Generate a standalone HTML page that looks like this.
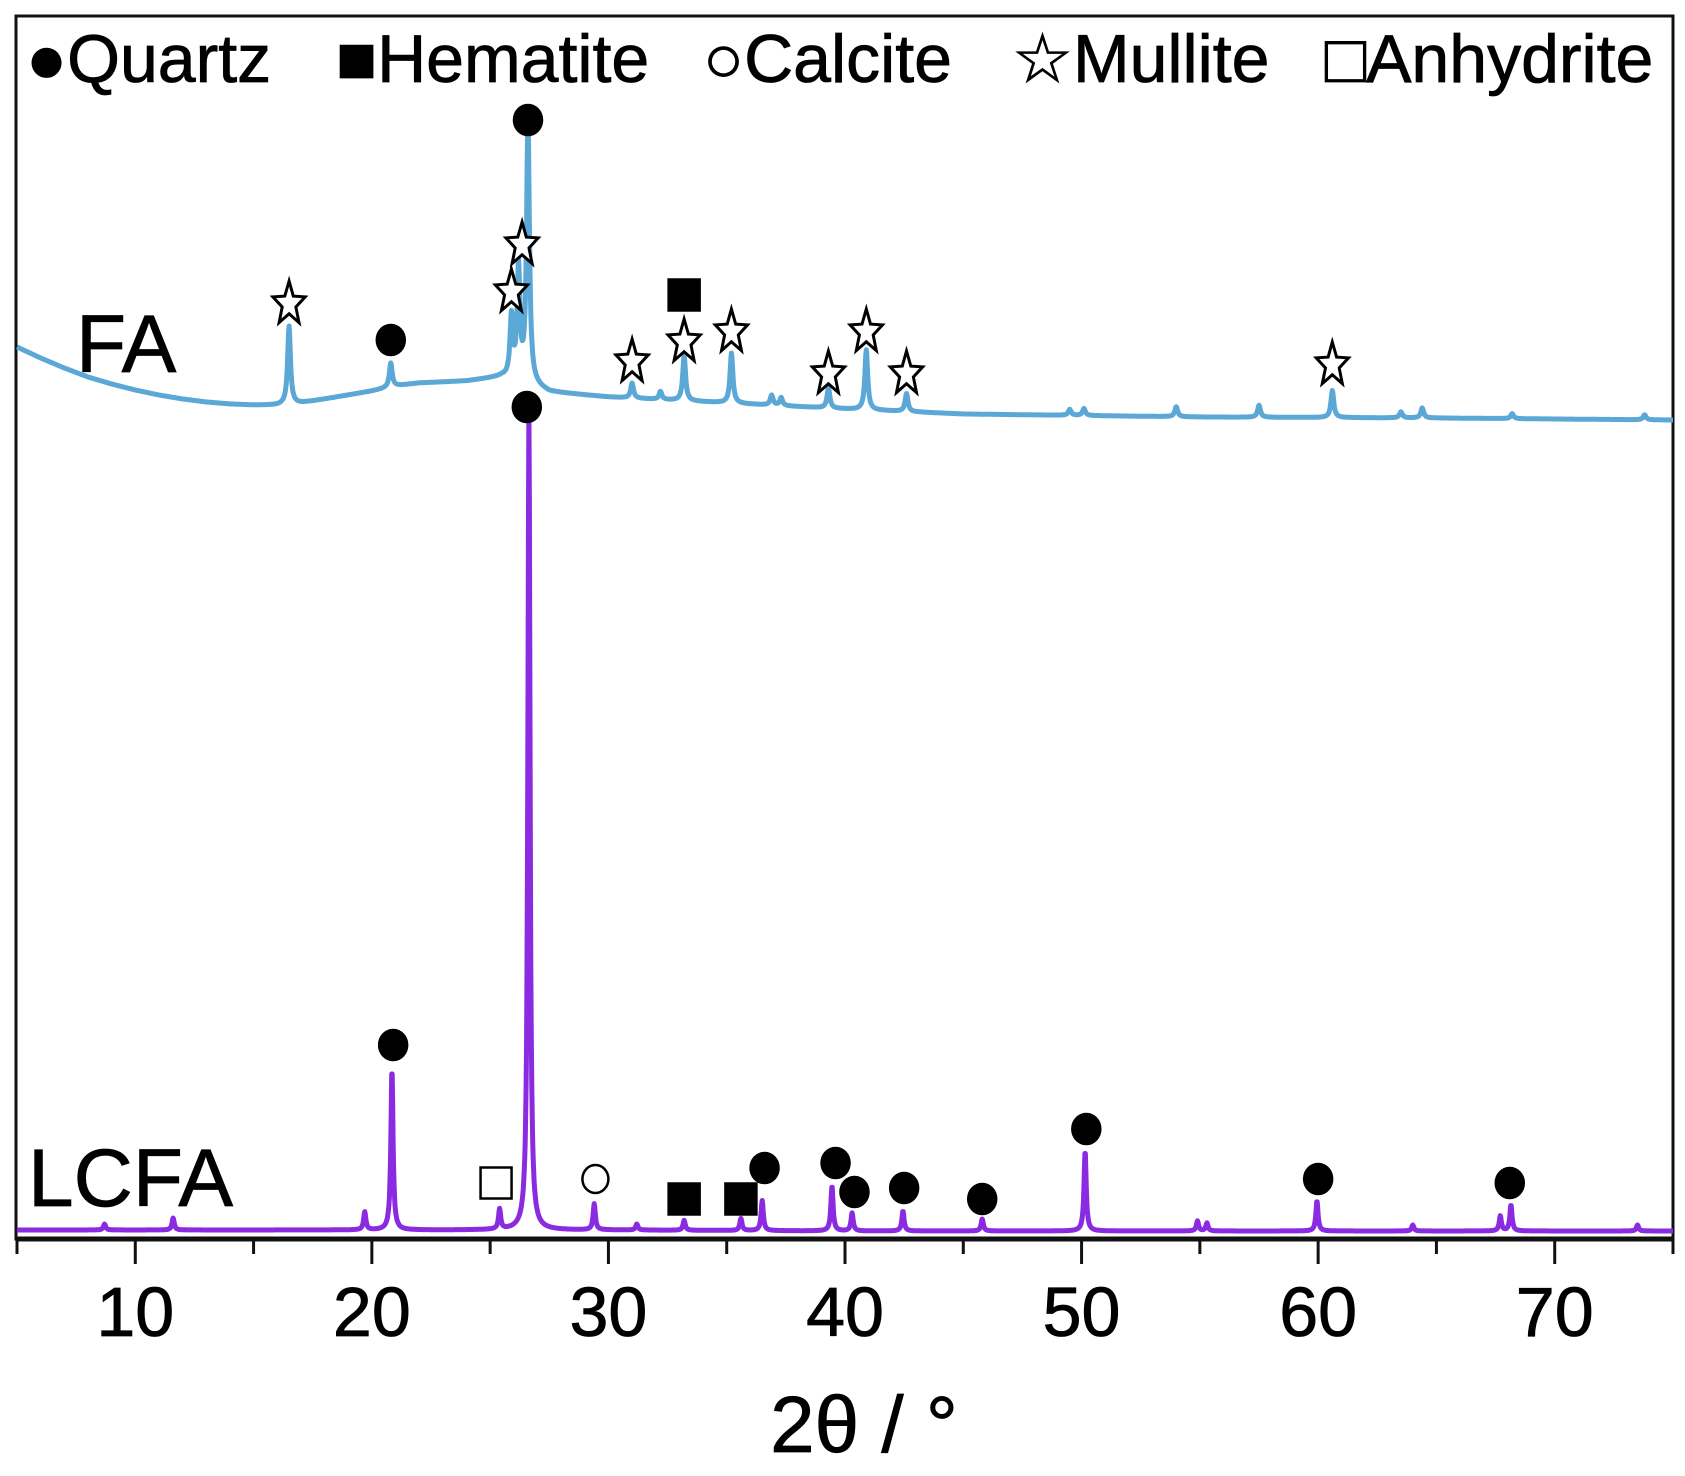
<!DOCTYPE html>
<html><head><meta charset="utf-8"><style>
html,body{margin:0;padding:0;background:#fff}
svg{display:block;font-family:"Liberation Sans","DejaVu Sans",sans-serif}
</style></head><body>
<svg id="chart" width="1685" height="1476" viewBox="0 0 1685 1476" xmlns="http://www.w3.org/2000/svg">
<rect x="16" y="16" width="1657" height="1223" fill="#fff" stroke="#111" stroke-width="3"/>
<g id="series"></g>
<g id="markers"></g>
<g id="axis"></g>
<g font-size="68" fill="#000" stroke="#000" stroke-width="0.8">
<text x="26" y="82">●Quartz</text>
<text x="336" y="82">■Hematite</text>
<text x="703" y="82">○Calcite</text>
<text x="1012" y="82">☆Mullite</text>
<text x="1325" y="82">□Anhydrite</text>
</g>
<text x="76" y="372" font-size="82" stroke="#000" stroke-width="0.8">FA</text>
<text x="28" y="1206" font-size="82" stroke="#000" stroke-width="0.8">LCFA</text>
<text x="864" y="1452" font-size="80" text-anchor="middle" stroke="#000" stroke-width="0.8">2θ / °</text>
</svg>
<script>
const xTicks=[10,20,30,40,50,60,70];
const xMinor=[5,15,25,35,45,55,65,75];
const faBaseX=[5,6,7,8,9,10,11,12,13,14,15,16,17,18,19,20,21,22,24,25.5,26.5,27.5,30,35,40,45,55,65,75];
const faBaseV=[83,72,62,53,46,40,35,31,28,26,25,25,27,31,35,39,44,47,49,53,48,38,33,27,21,16,13,12,10];
const faPeakX=[16.5,20.8,25.9,26.2,26.6,31,32.2,33.2,35.2,36.9,37.3,39.3,40.9,42.6,49.5,50.1,54,57.5,60.6,63.5,64.4,68.2,73.8];
const faPeakH=[78,24,60,110,262,15,8,45,50,10,8,20,60,18,6,7,10,12,27,6,10,5,5];
const lcBaseX=[5,10,20,30,40,50,60,75];
const lcBaseV=[6,6,6,6,5,5,5,5];
const lcPeakX=[8.7,11.6,19.7,20.85,25.4,26.64,29.4,31.2,33.2,35.6,36.5,39.45,40.3,42.45,45.8,50.15,54.9,55.3,59.95,64,67.7,68.15,73.5];
const lcPeakH=[6,12,18,161,20,820,26,6,10,12,30,45,18,20,12,80,10,8,30,6,15,26,6];
function xs(v){return 17+(v-5)*(1673-17)/70;}
function interp(X,V,x){if(x<=X[0])return V[0];for(let i=1;i<X.length;i++){if(x<=X[i]){const t=(x-X[i-1])/(X[i]-X[i-1]);return V[i-1]+t*(V[i]-V[i-1]);}}return V[V.length-1];}
function profile(PX,PH,x,w){let s=0;for(let i=0;i<PX.length;i++){const d=(x-PX[i])/w;s+=PH[i]/(1+d*d*1.6);}return s;}
function build(BX,BV,PX,PH,zero,w){let d='';for(let x=5;x<=75.0001;x+=0.02){const v=interp(BX,BV,x)+profile(PX,PH,x,w);d+=(d?'L':'M')+xs(x).toFixed(1)+','+(zero-v).toFixed(1);}return d;}
const ns='http://www.w3.org/2000/svg';
const sg=document.getElementById('series');
const p1=document.createElementNS(ns,'path');
p1.setAttribute('d',build(faBaseX,faBaseV,faPeakX,faPeakH,430,0.09));
p1.setAttribute('fill','none');p1.setAttribute('stroke','#5ba7d6');p1.setAttribute('stroke-width','5');p1.setAttribute('stroke-linejoin','round');


sg.appendChild(p1);
const p2=document.createElementNS(ns,'path');
p2.setAttribute('d',build(lcBaseX,lcBaseV,lcPeakX,lcPeakH,1236,0.07));
p2.setAttribute('fill','none');p2.setAttribute('stroke','#8a2be2');p2.setAttribute('stroke-width','5');p2.setAttribute('stroke-linejoin','round');


sg.appendChild(p2);
const markX=[26.6,26.35,25.9,16.5,20.8,33.2,33.2,35.2,31,39.3,40.9,42.6,60.6,26.55,20.9,25.25,29.45,33.2,35.6,36.6,39.6,40.4,42.5,45.8,50.2,60,68.1];
const markY=[120,243,290,302,340,295,340,330,360,372,330,372,363,407,1045,1183,1179,1199,1199,1168,1163,1192,1188,1199,1129,1179,1183];
const markT=['q','m','m','m','q','h','m','m','m','m','m','m','m','q','q','a','c','h','h','q','q','q','q','q','q','q','q'];
function starPts(cx,cy,R,r){let p=[];for(let k=0;k<10;k++){const a=-Math.PI/2+k*Math.PI/5;const rr=k%2?r:R;p.push((cx+rr*Math.cos(a)*0.85).toFixed(1)+','+(cy+rr*Math.sin(a)*1.15).toFixed(1));}return p.join(' ');}
const mg=document.getElementById('markers');
for(let i=0;i<markX.length;i++){
  const cx=xs(markX[i]),cy=markY[i],t=markT[i];let el;
  if(t==='q'||t==='c'){el=document.createElementNS(ns,'ellipse');el.setAttribute('cx',cx);el.setAttribute('cy',cy);el.setAttribute('rx',t==='q'?14:13);el.setAttribute('ry',t==='q'?15:14);el.setAttribute('fill',t==='q'?'#000':'#fff');el.setAttribute('stroke','#000');el.setAttribute('stroke-width','2.5');}
  else if(t==='h'||t==='a'){el=document.createElementNS(ns,'rect');const s=31;el.setAttribute('x',cx-s/2);el.setAttribute('y',cy-s/2);el.setAttribute('width',s);el.setAttribute('height',s);el.setAttribute('fill',t==='h'?'#000':'#fff');el.setAttribute('stroke','#000');el.setAttribute('stroke-width','2.5');}
  else{el=document.createElementNS(ns,'polygon');el.setAttribute('points',starPts(cx,cy+2,20,8.5));el.setAttribute('fill','#fff');el.setAttribute('stroke','#000');el.setAttribute('stroke-width','3');el.setAttribute('stroke-linejoin','miter');}
  
  
  mg.appendChild(el);
}
const ag=document.getElementById('axis');
const base=document.createElementNS(ns,'line');
base.setAttribute('x1',16);base.setAttribute('x2',1673);base.setAttribute('y1',1239);base.setAttribute('y2',1239);base.setAttribute('stroke','#111');base.setAttribute('stroke-width','5');


ag.appendChild(base);
xTicks.forEach(v=>{const l=document.createElementNS(ns,'line');l.setAttribute('x1',xs(v));l.setAttribute('x2',xs(v));l.setAttribute('y1',1239);l.setAttribute('y2',1264);l.setAttribute('stroke','#111');l.setAttribute('stroke-width','3');


ag.appendChild(l);
const t=document.createElementNS(ns,'text');t.setAttribute('x',xs(v));t.setAttribute('y',1336);t.setAttribute('text-anchor','middle');t.setAttribute('font-size','70');t.setAttribute('stroke','#000');t.setAttribute('stroke-width','0.8');t.textContent=v;


ag.appendChild(t);});
xMinor.forEach(v=>{const l=document.createElementNS(ns,'line');l.setAttribute('x1',xs(v));l.setAttribute('x2',xs(v));l.setAttribute('y1',1239);l.setAttribute('y2',1254);l.setAttribute('stroke','#111');l.setAttribute('stroke-width','3');


ag.appendChild(l);});
</script>
</body></html>
